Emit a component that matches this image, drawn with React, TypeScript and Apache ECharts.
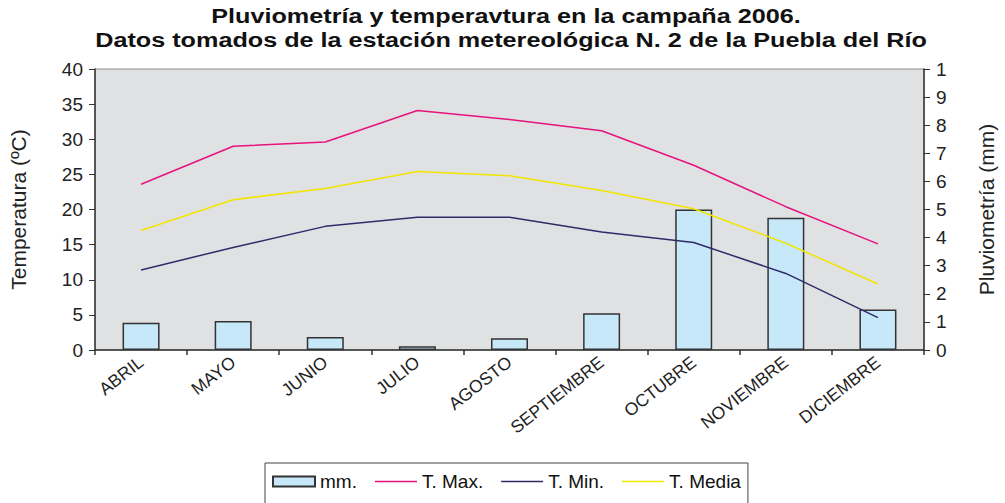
import React, { useEffect, useRef } from "react";
import * as echarts from "echarts";

const months = ["ABRIL", "MAYO", "JUNIO", "JULIO", "AGOSTO", "SEPTIEMBRE", "OCTUBRE", "NOVIEMBRE", "DICIEMBRE"];
const rainMm = [0.97, 1.03, 0.46, 0.13, 0.42, 1.31, 5.0, 4.71, 1.44];
const tMax = [23.6, 29.0, 29.6, 34.1, 32.8, 31.2, 26.3, 20.4, 15.1];
const tMin = [11.4, 14.6, 17.6, 18.9, 18.9, 16.8, 15.3, 10.9, 4.6];
const tMedia = [17.0, 21.4, 23.0, 25.4, 24.8, 22.7, 20.1, 15.2, 9.4];
const leftTicks = [0, 5, 10, 15, 20, 25, 30, 35, 40];
const rightTicks = [0, 1, 2, 3, 4, 5, 6, 7, 8, 9, 10];
const titleLine1 = "Pluviometría y temperavtura en la campaña 2006.";
const titleLine2 = "Datos tomados de la estación metereológica N. 2 de la Puebla del Río";

const FONT = "'Liberation Sans', Arial, sans-serif";
const LINE_ICON =
  "path://M0,4.3 L42,4.3 L42,5.7 L0,5.7 Z M0,0 L0.01,0 L0,0.01 Z M42,10 L41.99,10 L42,9.99 Z";

export default function App() {
  const ref = useRef<HTMLDivElement>(null);
  useEffect(() => {
    document.body.style.margin = "0";
    const chart = echarts.init(ref.current!, undefined, { renderer: "svg" });
    chart.setOption({
      animation: false,
      backgroundColor: "#ffffff",
      textStyle: { fontFamily: FONT },
      graphic: [
        {
          type: "text",
          x: 506,
          y: 16,
          scaleX: 1.2,
          style: {
            text: titleLine1,
            fontFamily: FONT,
            fontSize: 21,
            fontWeight: "bold",
            fill: "#111",
            textAlign: "center",
            textVerticalAlign: "middle",
          },
        },
        {
          type: "text",
          x: 511,
          y: 39.5,
          scaleX: 1.2,
          style: {
            text: titleLine2,
            fontFamily: FONT,
            fontSize: 21,
            fontWeight: "bold",
            fill: "#111",
            textAlign: "center",
            textVerticalAlign: "middle",
          },
        },
      ],
      legend: {
        left: 265,
        top: 463,
        padding: [9, 7, 16, 7],
        borderColor: "#444",
        borderWidth: 1,
        itemWidth: 42,
        itemHeight: 10,
        itemGap: 18,
        textStyle: { fontFamily: FONT, fontSize: 19, color: "#111" },
        data: [
          { name: "mm.", icon: "rect" },
          { name: "T. Max.", icon: LINE_ICON },
          { name: "T. Min.", icon: LINE_ICON },
          { name: "T. Media", icon: LINE_ICON },
        ],
      },
      grid: {
        left: 94,
        right: 77,
        top: 69,
        bottom: 153,
        show: true,
        backgroundColor: "#e0e1e3",
        borderColor: "#8a8a8a",
        borderWidth: 1,
      },
      xAxis: {
        type: "category",
        data: months,
        axisLine: { lineStyle: { color: "#333", width: 1.5 } },
        axisTick: { show: true, length: 5, lineStyle: { color: "#333", width: 1.5 } },
        axisLabel: { rotate: 38, fontSize: 17.5, color: "#222", margin: 10, fontFamily: FONT, interval: 0 },
      },
      yAxis: [
        {
          type: "value",
          min: 0,
          max: 40,
          interval: 5,
          name: "Temperatura (ºC)",
          nameLocation: "middle",
          nameGap: 66,
          nameTextStyle: { fontSize: 21, color: "#222", fontFamily: FONT },
          axisLine: { show: true, lineStyle: { color: "#333", width: 1.5 } },
          axisTick: { show: true, length: 6, lineStyle: { color: "#333" } },
          axisLabel: {
            fontSize: 19,
            color: "#222",
            margin: 12,
            fontFamily: FONT,
            formatter: (v: number) => (leftTicks.includes(v) ? String(v) : ""),
          },
          splitLine: { show: false },
        },
        {
          type: "value",
          min: 0,
          max: 10,
          interval: 1,
          position: "right",
          name: "Pluviometría (mm)",
          nameLocation: "middle",
          nameGap: 52,
          nameRotate: 90,
          nameTextStyle: { fontSize: 21, color: "#222", fontFamily: FONT },
          axisLine: { show: true, lineStyle: { color: "#333", width: 1.5 } },
          axisTick: { show: true, length: 6, lineStyle: { color: "#333" } },
          axisLabel: {
            fontSize: 19,
            color: "#222",
            margin: 12,
            fontFamily: FONT,
            formatter: (v: number) => (rightTicks.includes(v) ? (v === 10 ? "1" : String(v)) : ""),
          },
          splitLine: { show: false },
        },
      ],
      series: [
        {
          name: "mm.",
          type: "bar",
          yAxisIndex: 1,
          data: rainMm,
          barWidth: 37,
          itemStyle: { color: "#c6e8f8", borderColor: "#333", borderWidth: 1.5 },
        },
        {
          name: "T. Max.",
          type: "line",
          data: tMax,
          symbol: "none",
          lineStyle: { color: "#e6137e", width: 1.5 },
          itemStyle: { color: "#e6137e" },
        },
        {
          name: "T. Min.",
          type: "line",
          data: tMin,
          symbol: "none",
          lineStyle: { color: "#2e2c6a", width: 1.5 },
          itemStyle: { color: "#2e2c6a" },
        },
        {
          name: "T. Media",
          type: "line",
          data: tMedia,
          symbol: "none",
          lineStyle: { color: "#f2e500", width: 1.5 },
          itemStyle: { color: "#f2e500" },
        },
      ],
    });
    return () => chart.dispose();
  }, []);
  return <div ref={ref} style={{ width: 1005, height: 503 }} />;
}
